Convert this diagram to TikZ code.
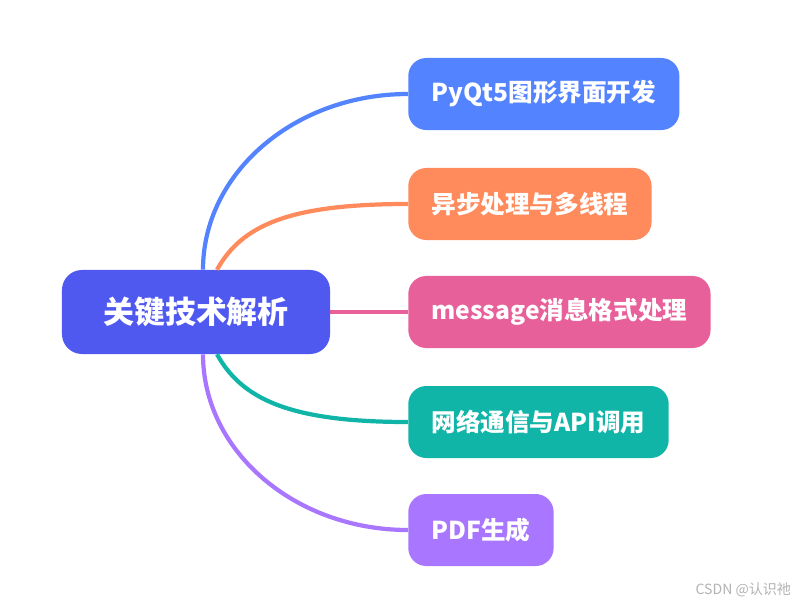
\documentclass[tikz,border=0pt]{standalone}
\usepackage{fontspec}
\setmainfont{Noto Sans CJK SC}
\usepackage{tikz}
\usetikzlibrary{positioning}

\definecolor{rootColor}{RGB}{79,89,240}
\definecolor{blueColor}{RGB}{83,131,255}
\definecolor{orangeColor}{RGB}{255,138,91}
\definecolor{pinkColor}{RGB}{232,96,154}
\definecolor{tealColor}{RGB}{16,181,168}
\definecolor{purpleColor}{RGB}{168,118,255}

\tikzset{
  rootbox/.style={fill=rootColor, text=white, rounded corners=0.5cm,
    minimum width=6.7cm, minimum height=2.1cm,
    font=\fontsize{22}{26}\selectfont\bfseries},
  branchbox/.style={fill=#1, text=white, rounded corners=0.45cm, anchor=west,
    minimum height=1.8cm, inner xsep=0.58cm,
    font=\fontsize{17.5}{21}\selectfont\bfseries},
  branchline/.style={draw=#1, line width=3pt}
}

\begin{document}
\begin{tikzpicture}[x=0.025cm,y=-0.025cm]
\useasboundingbox (0,0) rectangle (807,606);

% root
\node[rootbox] (root) at (196,312) {关键技术解析};

% branches
\node[branchbox=blueColor] (pyqt) at (408,94) {PyQt5图形界面开发};
\node[branchbox=orangeColor] (async) at (408,204) {异步处理与多线程};
\node[branchbox=pinkColor] (msg) at (408,312) {message消息格式处理};
\node[branchbox=tealColor] (net) at (408,422) {网络通信与API调用};
\node[branchbox=purpleColor] (pdf) at (408,530) {PDF生成};

% connectors
\draw[branchline=blueColor] ([xshift=0.175cm]root.north) .. controls +(0,-97) and +(-113,0) .. (pyqt.west);
\draw[branchline=orangeColor] ([xshift=0.525cm]root.north) .. controls +(25,-45) and +(-118,0) .. (async.west);
\draw[branchline=pinkColor] (root.east) -- (msg.west);
\draw[branchline=tealColor] ([xshift=0.525cm]root.south) .. controls +(25,45) and +(-118,0) .. (net.west);
\draw[branchline=purpleColor] ([xshift=0.175cm]root.south) .. controls +(0,97) and +(-113,0) .. (pdf.west);

% watermark
\node[text=black!30, font=\fontsize{10}{12}\selectfont, anchor=east] (mark) at (796,590) {CSDN @认识祂};
\end{tikzpicture}
\end{document}
